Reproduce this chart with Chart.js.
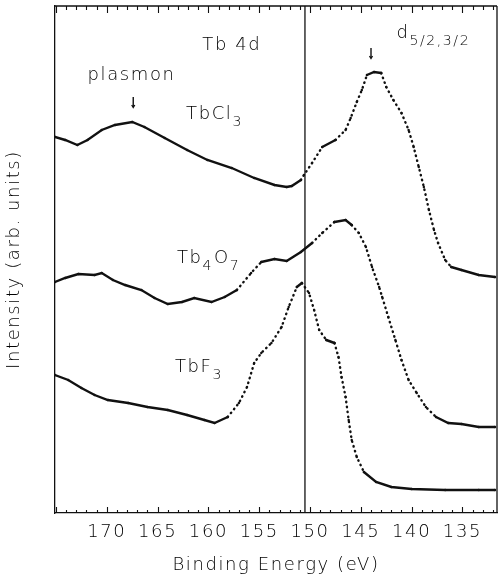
<!DOCTYPE html>
<html>
<head>
<meta charset="utf-8">
<script src="https://cdn.jsdelivr.net/npm/chart.js@4.4.1/dist/chart.umd.min.js"></script>
<style>
  html, body { margin: 0; padding: 0; background: #fff; }
  canvas { display: block; }
</style>
</head>
<body>
<canvas id="c" width="501" height="582"></canvas>
<script>
// ---- data (binding energy in eV, intensity in arbitrary units) ----
const energyTbCl3 = [175.1,174.1,172.9,171.9,170.5,169.2,167.5,166.3,164.3,162.1,160.1,157.7,155.5,153.5,152.3,151.8,150.9,150.6,149.8,148.8,147.5,146.5,146.0,145.4,144.9,144.4,143.7,143.0,142.5,141.8,141.0,140.3,139.8,139.3,138.8,138.3,137.8,137.4,136.7,136.1,135.1,133.4,131.8];
const intensityTbCl3 = [376,373,368,373,383,388,391,386,375,363,353,345,335,328,326,327,333,338,350,366,373,383,395,411,423,438,441,440,426,413,400,383,366,346,326,303,283,270,253,246,243,238,236];

const energyTb4O7 = [175.1,174.1,172.8,171.2,170.5,169.4,168.2,166.6,165.3,164.0,162.6,161.4,159.7,158.4,157.2,155.8,154.8,153.5,152.3,150.9,149.8,148.8,147.6,146.5,145.9,145.2,144.5,143.9,143.2,142.9,142.3,141.6,141.0,140.3,139.5,138.6,137.6,136.4,135.1,133.4,131.8];
const intensityTb4O7 = [231,235,239,238,240,233,228,223,215,209,211,215,211,216,223,240,251,254,252,261,270,280,291,293,288,280,266,246,226,216,196,173,153,133,120,106,96,90,89,86,86];

const energyTbF3 = [175.1,173.8,172.5,171.2,169.9,167.9,166.0,164.0,162.1,160.4,159.4,158.1,157.0,156.2,155.5,154.8,153.8,152.8,152.1,151.3,150.8,150.1,149.6,149.1,148.4,147.6,147.2,146.9,146.5,146.2,145.9,145.4,144.7,143.5,142.0,140.0,136.7,133.4,131.8];
const intensityTbF3 = [138,133,125,118,113,110,106,103,98,93,90,96,110,126,150,160,170,186,206,226,230,220,203,183,173,170,156,136,116,93,73,56,41,31,26,24,23,23,23];

const xTickValues = [135,140,145,150,155,160,165,170];
const energyMin = 131.6, energyMax = 175.1;
const intensityMin = 0, intensityMax = 507;
const dividerEnergy = 150.5;
const plasmonEnergy = 167.4;
const peakEnergy = 144.0;

const xTitle = 'Binding Energy (eV)';
const yTitle = 'Intensity (arb. units)';

const toPoints = (xs, ys) => xs.map((x, i) => ({ x: x, y: ys[i] }));

const FONT = '"DejaVu Sans", sans-serif';
const FW = '200';
const INK = '#111';
const TEXT = '#000';

function steepDash(ctx) {
  const dx = Math.abs(ctx.p1.x - ctx.p0.x);
  const dy = Math.abs(ctx.p1.y - ctx.p0.y);
  return dy > dx * 0.9 ? [0.5, 4.5] : undefined;
}

function makeSet(label, xs, ys) {
  return {
    label: label,
    data: toPoints(xs, ys),
    borderColor: INK,
    backgroundColor: INK,
    borderWidth: 2.4,
    borderCapStyle: 'round',
    pointRadius: 1.2,
    pointBorderWidth: 0,
    pointBackgroundColor: INK,
    tension: 0,
    segment: { borderDash: steepDash }
  };
}

// labels drawn in data coordinates: [main, sub, main, sub ...]
const annotations = [
  { parts: ['Tb 4d'], x: 160.6, y: 463 },
  { parts: ['plasmon'], x: 171.9, y: 433 },
  { parts: ['TbCl', '3'], x: 162.2, y: 394 },
  { parts: ['d', '5/2,3/2'], x: 141.5, y: 475 },
  { parts: ['Tb', '4', 'O', '7'], x: 163.1, y: 250 },
  { parts: ['TbF', '3'], x: 163.3, y: 141 }
];
const arrows = [
  { x: plasmonEnergy, y0: 416, y1: 406 },
  { x: peakEnergy, y0: 465, y1: 455 }
];

const decor = {
  id: 'decor',
  beforeDraw(chart) {
    chart.ctx.letterSpacing = '1.6px';
  },
  afterDatasetsDraw(chart) {
    const ctx = chart.ctx;
    const xs = chart.scales.x, ys = chart.scales.y;
    const a = chart.chartArea;
    ctx.save();
    ctx.strokeStyle = INK;
    ctx.fillStyle = TEXT;
    ctx.lineWidth = 1.3;
    // frame
    ctx.beginPath();
    ctx.moveTo(a.left, a.top); ctx.lineTo(a.right, a.top);
    ctx.moveTo(a.right, a.top); ctx.lineTo(a.right, a.bottom);
    ctx.stroke();
    // minor/major ticks (inward) on bottom and top
    ctx.lineWidth = 1.1;
    ctx.beginPath();
    for (let v = Math.ceil(energyMin); v <= Math.floor(energyMax); v++) {
      const px = Math.round(xs.getPixelForValue(v)) + 0.5;
      const major = v % 5 === 0;
      ctx.moveTo(px, a.bottom); ctx.lineTo(px, a.bottom - (major ? 6 : 3));
      ctx.moveTo(px, a.top); ctx.lineTo(px, a.top + (major ? 7 : 4));
    }
    ctx.stroke();
    // divider line
    const dx = xs.getPixelForValue(dividerEnergy);
    ctx.lineWidth = 1.3;
    ctx.beginPath();
    ctx.moveTo(dx, a.top); ctx.lineTo(dx, a.bottom);
    ctx.stroke();
    // arrows
    ctx.lineWidth = 1.4;
    arrows.forEach(ar => {
      const px = xs.getPixelForValue(ar.x);
      const p0 = ys.getPixelForValue(ar.y0), p1 = ys.getPixelForValue(ar.y1);
      ctx.beginPath();
      ctx.moveTo(px, p0); ctx.lineTo(px, p1);
      ctx.stroke();
      ctx.beginPath();
      ctx.moveTo(px - 1.5, p1 - 2); ctx.lineTo(px, p1 + 0.5); ctx.lineTo(px + 1.5, p1 - 2);
      ctx.stroke();
    });
    // text annotations
    ctx.textBaseline = 'alphabetic';
    ctx.textAlign = 'left';
    ctx.letterSpacing = '1.6px';
    annotations.forEach(an => {
      let px = xs.getPixelForValue(an.x);
      const py = ys.getPixelForValue(an.y);
      an.parts.forEach((t, i) => {
        const sub = i % 2 === 1;
        ctx.font = FW + (sub ? ' 14px ' : ' 18px ') + FONT;
        ctx.fillText(t, px, py + (sub ? 7 : 0));
        px += ctx.measureText(t).width + (sub ? 1 : 0);
      });
    });
    ctx.restore();
  }
};

new Chart(document.getElementById('c'), {
  type: 'line',
  data: {
    datasets: [
      makeSet('TbCl3', energyTbCl3, intensityTbCl3),
      makeSet('Tb4O7', energyTb4O7, intensityTb4O7),
      makeSet('TbF3', energyTbF3, intensityTbF3)
    ]
  },
  options: {
    responsive: false,
    animation: false,
    devicePixelRatio: 1,
    layout: { padding: { top: 6, right: 2, left: 0, bottom: 0 } },
    plugins: { legend: { display: false }, tooltip: { enabled: false } },
    scales: {
      x: {
        type: 'linear',
        reverse: true,
        min: energyMin,
        max: energyMax,
        afterBuildTicks: s => { s.ticks = xTickValues.map(v => ({ value: v })); },
        afterFit: s => { s.height = 69; },
        ticks: {
          autoSkip: false,
          maxRotation: 0,
          padding: 9,
          color: TEXT,
          font: { family: FONT, size: 18, weight: FW },
          callback: v => String(v)
        },
        grid: { display: false, drawTicks: false },
        border: { display: true, color: INK, width: 1.3 },
        title: {
          display: true,
          text: xTitle,
          color: TEXT,
          font: { family: FONT, size: 18, weight: FW },
          padding: { top: 0, bottom: 6 }
        }
      },
      y: {
        min: intensityMin,
        max: intensityMax,
        afterFit: s => { s.width = 55; },
        ticks: { display: false },
        grid: { display: false, drawTicks: false },
        border: { display: true, color: INK, width: 1.3 },
        title: {
          display: true,
          text: yTitle,
          color: TEXT,
          font: { family: FONT, size: 18, weight: FW },
          padding: { top: 4, bottom: 0 }
        }
      }
    }
  },
  plugins: [decor]
});
</script>
</body>
</html>
